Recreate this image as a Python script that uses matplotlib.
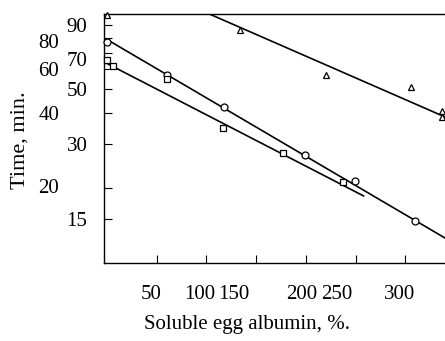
import numpy as np
import matplotlib
matplotlib.use('Agg')
import matplotlib.pyplot as plt
from matplotlib.transforms import ScaledTranslation

# triangle series
tri_x = [0, 134, 220, 306, 337, 337]
tri_y = [99, 86, 57, 51, 40.6, 38.6]
tri_line_x = [103, 340]
tri_line_y = [100, 38.6]

# circle series
circ_x = [0, 60, 118, 199, 249, 310]
circ_y = [77, 57, 42.5, 27.1, 21.3, 14.8]
circ_line_x = [0, 340]
circ_line_y = [79, 12.6]

# square series
sq_x = [0, 6, 60, 117, 177, 237]
sq_y = [65.3, 61.6, 55, 34.7, 27.6, 21.2]
sq_line_x = [0, 258]
sq_line_y = [63.3, 18.6]

xticks = [50, 100, 150, 200, 250, 300]
yticks = [90, 80, 70, 60, 50, 40, 30, 20, 15]

plt.rcParams['font.family'] = 'Liberation Serif'

fig = plt.figure(figsize=(4.45, 3.41), dpi=100)
ax = fig.add_axes([104/445, 1 - 263/341, 1 - 104/445, (263 - 14)/341])

ax.plot(tri_line_x, tri_line_y, color='black', lw=1.2)
ax.plot(circ_line_x, circ_line_y, color='black', lw=1.2)
ax.plot(sq_line_x, sq_line_y, color='black', lw=1.2)

mk = dict(linestyle='none', mfc='white', mec='black', mew=0.9, ms=5, clip_on=False, zorder=3)
ax.plot(tri_x, tri_y, marker='^', **mk)
ax.plot(circ_x, circ_y, marker='o', **mk)
ax.plot(sq_x, sq_y, marker='s', **mk)

ax.set_yscale('log')
ax.set_xlim(-3, 340)
ax.set_ylim(10, 100)

ax.set_xticks(xticks)
ax.set_xticklabels([str(t) for t in xticks])
ax.set_yticks(yticks)
ax.set_yticklabels([str(t) for t in yticks])
ax.yaxis.set_minor_locator(matplotlib.ticker.NullLocator())
ax.tick_params(axis='both', direction='in', length=6, width=0.8, labelsize=15)
ax.tick_params(axis='y', pad=12)
ax.tick_params(axis='x', pad=16)

# the printed labels sit a little off their ticks
x_shift = {'50': -6, '100': -7, '150': -22, '200': -4, '250': -19, '300': -6}
for lab in ax.get_xticklabels():
    dx = x_shift.get(lab.get_text(), 0)
    lab.set_transform(lab.get_transform() + ScaledTranslation(dx/100, 0, fig.dpi_scale_trans))

# y labels in two columns
y_shift = {'80': (-28, -3), '70': (0, -6), '60': (-28, 0), '40': (-28, 0), '20': (-28, 2)}
for lab in ax.get_yticklabels():
    dx, dy = y_shift.get(lab.get_text(), (0, 0))
    lab.set_transform(lab.get_transform() + ScaledTranslation(dx/100, dy/100, fig.dpi_scale_trans))

ax.spines['right'].set_visible(False)
for s in ['left', 'bottom', 'top']:
    ax.spines[s].set_linewidth(1.0)

fig.text(247/445, 1 - 324/341, 'Soluble egg albumin, %.', fontsize=15,
         ha='center', va='center')
fig.text(20/445, 1 - 140/341, 'Time, min.', rotation=90, fontsize=16,
         ha='center', va='center')

fig.savefig('out.png', dpi=100)
